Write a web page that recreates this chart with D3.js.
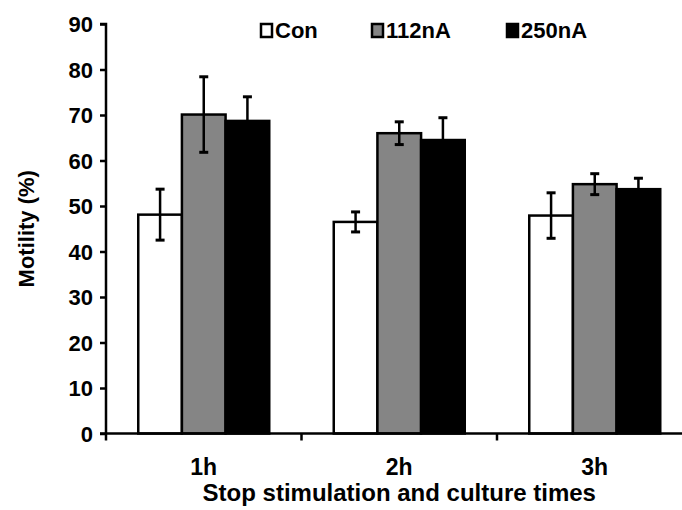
<!DOCTYPE html>
<html>
<head>
<meta charset="utf-8">
<script src="https://cdn.jsdelivr.net/npm/d3@7"></script>
<style>
  html, body { margin: 0; padding: 0; background: #fff; }
  svg { display: block; }
  text { font-family: "Liberation Sans", Arial, sans-serif; font-weight: bold; fill: #000; }
</style>
</head>
<body>
<svg id="chart" width="682" height="510"></svg>
<script>
const categories = ["1h", "2h", "3h"];
const seriesNames = ["Con", "112nA", "250nA"];
const conValues = [48.1, 46.5, 47.9];
const conErrors = [5.6, 2.2, 5.0];
const nA112Values = [70.1, 66.0, 54.8];
const nA112Errors = [8.3, 2.5, 2.3];
const nA250Values = [68.7, 64.5, 53.7];
const nA250Errors = [5.3, 4.9, 2.4];
const yTicks = [0, 10, 20, 30, 40, 50, 60, 70, 80, 90];
const seriesFill = ["#ffffff", "#858585", "#000000"];

const series = [
  { name: seriesNames[0], values: conValues, errors: conErrors, fill: seriesFill[0] },
  { name: seriesNames[1], values: nA112Values, errors: nA112Errors, fill: seriesFill[1] },
  { name: seriesNames[2], values: nA250Values, errors: nA250Errors, fill: seriesFill[2] }
];

const svg = d3.select("#chart");
const pLeft = 106, pBottom = 433.5, pTop = 24, catW = 195.5;

const x = d3.scaleBand().domain(categories).range([pLeft, pLeft + catW * categories.length]).paddingInner(0).paddingOuter(0);
const y = d3.scaleLinear().domain([0, 90]).range([pBottom, pTop]);
const groupW = 131;
const xs = d3.scaleBand().domain(seriesNames).range([0, groupW]).padding(0);

// bars
const g = svg.append("g");
categories.forEach((c, ci) => {
  const gx = x(c) + x.bandwidth() / 2 - groupW / 2;
  series.forEach(s => {
    g.append("rect")
      .attr("x", gx + xs(s.name))
      .attr("y", y(s.values[ci]))
      .attr("width", xs.bandwidth())
      .attr("height", y(0) - y(s.values[ci]))
      .attr("fill", s.fill)
      .attr("stroke", "#000")
      .attr("stroke-width", 2.5);
  });
});

// error bars
categories.forEach((c, ci) => {
  const gx = x(c) + x.bandwidth() / 2 - groupW / 2;
  series.forEach(s => {
    const cx = gx + xs(s.name) + xs.bandwidth() / 2;
    const hi = y(s.values[ci] + s.errors[ci]);
    const lo = y(s.values[ci] - s.errors[ci]);
    g.append("line").attr("x1", cx).attr("x2", cx).attr("y1", hi).attr("y2", lo)
      .attr("stroke", "#000").attr("stroke-width", 2.5);
    [hi, lo].forEach(yy => {
      g.append("line").attr("x1", cx - 4.5).attr("x2", cx + 4.5).attr("y1", yy).attr("y2", yy)
        .attr("stroke", "#000").attr("stroke-width", 3);
    });
  });
});

// y axis
const yAxis = d3.axisLeft(y).tickValues(yTicks).tickSize(6).tickPadding(7).tickFormat(d3.format("d"));
const yg = svg.append("g").attr("transform", `translate(${pLeft},0)`).call(yAxis);
yg.select(".domain").attr("stroke", "#000").attr("stroke-width", 2.5).attr("d", `M-6,${pTop}H0V${pBottom}`);
yg.selectAll(".tick line").attr("stroke", "#000").attr("stroke-width", 2.5);
yg.selectAll(".tick text").style("font-size", "22px").style("font-family", "Liberation Sans, Arial, sans-serif").style("font-weight", "bold").attr("dy", "0.36em");

// x axis
const xg = svg.append("g").attr("transform", `translate(0,${pBottom})`);
xg.append("line").attr("x1", pLeft - 6).attr("x2", 682).attr("y1", 0).attr("y2", 0)
  .attr("stroke", "#000").attr("stroke-width", 2.5);
const boundaries = categories.map(c => x(c)).concat([x(categories[categories.length - 1]) + x.bandwidth()]);
xg.selectAll("line.bt").data(boundaries).enter().append("line").attr("class", "bt")
  .attr("x1", d => d).attr("x2", d => d).attr("y1", 0).attr("y2", 7)
  .attr("stroke", "#000").attr("stroke-width", 2.5);
xg.selectAll("text.cat").data(categories).enter().append("text").attr("class", "cat")
  .attr("x", d => x(d) + x.bandwidth() / 2).attr("y", 41)
  .attr("text-anchor", "middle").style("font-size", "23px").text(d => d);

// axis titles
svg.append("text").attr("x", x(categories[1]) + x.bandwidth() / 2).attr("y", 501)
  .attr("text-anchor", "middle").style("font-size", "24px").text("Stop stimulation and culture times");
svg.append("text").attr("transform", `translate(34,${(pTop + pBottom) / 2}) rotate(-90)`)
  .attr("text-anchor", "middle").style("font-size", "22px").text("Motility (%)");

// legend
const legendX = [261, 372, 507];
series.forEach((s, i) => {
  const lg = svg.append("g").attr("transform", `translate(${legendX[i]},24)`);
  lg.append("rect").attr("x", 0).attr("y", 0).attr("width", 11).attr("height", 13)
    .attr("fill", s.fill).attr("stroke", "#000").attr("stroke-width", 2.5);
  lg.append("text").attr("x", 14).attr("y", 14).style("font-size", "22px").text(s.name);
});
</script>
</body>
</html>
